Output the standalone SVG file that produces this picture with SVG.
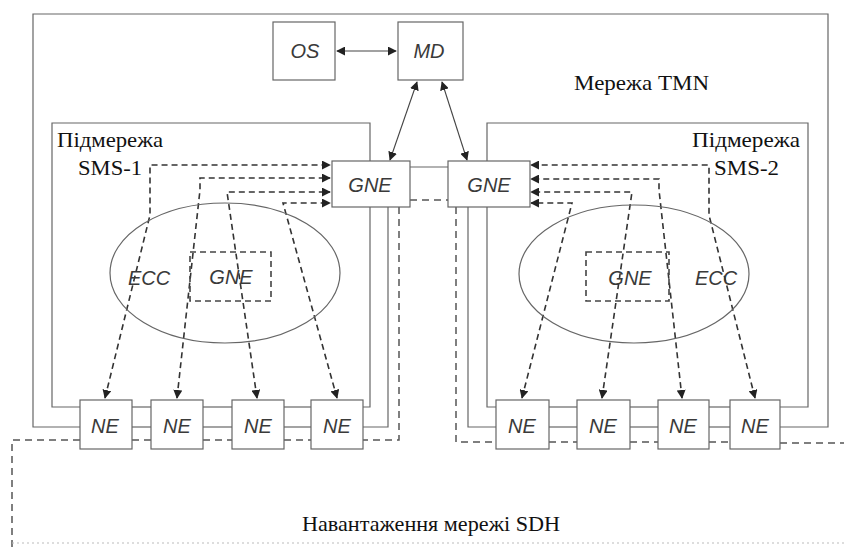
<svg xmlns="http://www.w3.org/2000/svg" width="844" height="547" viewBox="0 0 844 547">
<defs>
<marker id="ah" viewBox="0 0 10 10" refX="9" refY="5" markerWidth="9" markerHeight="9" markerUnits="userSpaceOnUse" orient="auto-start-reverse">
<path d="M0,0 L10,5 L0,10 z" fill="#222"/>
</marker>
</defs>
<style>
.bg{fill:#fff}
.box{fill:#fff;stroke:#666;stroke-width:1.2}
.dbox{fill:none;stroke:#444;stroke-width:1.6;stroke-dasharray:6,4}
.ell{fill:none;stroke:#666;stroke-width:1.2}
.ln{fill:none;stroke:#666;stroke-width:1.2}
.dl{fill:none;stroke:#555;stroke-width:1.5;stroke-dasharray:7,5}
.da{fill:none;stroke:#333;stroke-width:1.6;stroke-dasharray:6,4}
.arr{fill:none;stroke:#444;stroke-width:1.1}
.lbl{font-family:"Liberation Sans",Arial,sans-serif;font-style:italic;font-size:20px;fill:#3a3a3a;text-anchor:middle}
.ser{font-family:"Liberation Serif","DejaVu Serif",serif;font-size:22px;fill:#111}
</style>
<rect class="bg" x="0" y="0" width="844" height="547"/>

<g id="boundaries">
<polyline class="ln" points="80,427 33,427 33,14 828,14 828,427 780,427"/>
<polyline class="ln" points="80,407 52,407 52,123 370,123 370,161"/>
<polyline class="ln" points="370,207 370,407 363,407"/>
<polyline class="ln" points="487,161 487,123 808,123 808,407 780,407"/>
<polyline class="ln" points="487,207 487,407 496,407"/>
<polyline class="dl" points="80,440 12,440 12,547"/>
<polyline class="dl" points="780,443 844,443"/>
<line x1="12" y1="543" x2="844" y2="543" stroke="#bbb" stroke-width="1" stroke-dasharray="2,3"/>
</g>

<g id="connectors">
<line class="arr" x1="337" y1="51" x2="396" y2="51" marker-start="url(#ah)" marker-end="url(#ah)"/>
<line class="arr" x1="417" y1="82" x2="390" y2="160" marker-start="url(#ah)" marker-end="url(#ah)"/>
<line class="arr" x1="442" y1="82" x2="467" y2="160" marker-start="url(#ah)" marker-end="url(#ah)"/>
<line class="ln" x1="410" y1="167" x2="448" y2="167"/>
<line class="dl" x1="410" y1="200" x2="448" y2="200"/>
<polyline class="ln" points="388,207 388,427 363,427"/>
<polyline class="dl" points="399,207 399,440 363,440"/>
<polyline class="ln" points="468,207 468,427 496,427"/>
<polyline class="dl" points="456,207 456,442 496,442"/>
<line class="ln" x1="132" y1="407" x2="151" y2="407"/>
<line class="ln" x1="132" y1="427" x2="151" y2="427"/>
<line class="dl" x1="132" y1="440" x2="151" y2="440"/>
<line class="ln" x1="203" y1="407" x2="232" y2="407"/>
<line class="ln" x1="203" y1="427" x2="232" y2="427"/>
<line class="dl" x1="203" y1="440" x2="232" y2="440"/>
<line class="ln" x1="284" y1="407" x2="311" y2="407"/>
<line class="ln" x1="284" y1="427" x2="311" y2="427"/>
<line class="dl" x1="284" y1="440" x2="311" y2="440"/>
<line class="ln" x1="549" y1="407" x2="577" y2="407"/>
<line class="ln" x1="549" y1="427" x2="577" y2="427"/>
<line class="dl" x1="549" y1="442" x2="577" y2="442"/>
<line class="ln" x1="630" y1="407" x2="658" y2="407"/>
<line class="ln" x1="630" y1="427" x2="658" y2="427"/>
<line class="dl" x1="630" y1="442" x2="658" y2="442"/>
<line class="ln" x1="709" y1="407" x2="730" y2="407"/>
<line class="ln" x1="709" y1="427" x2="730" y2="427"/>
<line class="dl" x1="709" y1="442" x2="730" y2="442"/>
<polyline class="da" points="105,398 150,215 150,165 330,165" marker-start="url(#ah)" marker-end="url(#ah)"/>
<polyline class="da" points="177,398 200,190 200,178 330,178" marker-start="url(#ah)" marker-end="url(#ah)"/>
<polyline class="da" points="257,398 227,192 330,192" marker-start="url(#ah)" marker-end="url(#ah)"/>
<polyline class="da" points="337,398 283,203 330,203" marker-start="url(#ah)" marker-end="url(#ah)"/>
<polyline class="da" points="755,398 709,215 709,165 531,165" marker-start="url(#ah)" marker-end="url(#ah)"/>
<polyline class="da" points="682,398 659,190 659,179 531,179" marker-start="url(#ah)" marker-end="url(#ah)"/>
<polyline class="da" points="602,398 632,192 531,192" marker-start="url(#ah)" marker-end="url(#ah)"/>
<polyline class="da" points="522,398 572,203 531,203" marker-start="url(#ah)" marker-end="url(#ah)"/>
</g>

<g id="ecc1"><ellipse class="ell" cx="225" cy="273" rx="115" ry="70"/><text class="lbl" x="149" y="285">ECC</text></g>
<g id="ecc2"><ellipse class="ell" cx="634" cy="274" rx="115" ry="69"/><text class="lbl" x="716" y="285">ECC</text></g>
<g id="gne1-inner"><rect class="dbox" x="190" y="252" width="81" height="49"/><text class="lbl" x="231" y="284">GNE</text></g>
<g id="gne2-inner"><rect class="dbox" x="586" y="252" width="83" height="49"/><text class="lbl" x="630" y="285">GNE</text></g>

<g id="os"><rect class="box" x="273" y="22" width="62" height="58"/><text class="lbl" x="305" y="58">OS</text></g>
<g id="md"><rect class="box" x="398" y="22" width="65" height="58"/><text class="lbl" x="429" y="58">MD</text></g>
<g id="gne1"><rect class="box" x="332" y="161" width="78" height="46"/><text class="lbl" x="370" y="192">GNE</text></g>
<g id="gne2"><rect class="box" x="448" y="161" width="82" height="46"/><text class="lbl" x="489" y="192">GNE</text></g>

<g id="ne1"><rect class="box" x="80" y="400" width="52" height="49"/><text class="lbl" x="105" y="433">NE</text></g>
<g id="ne2"><rect class="box" x="151" y="400" width="52" height="49"/><text class="lbl" x="177" y="433">NE</text></g>
<g id="ne3"><rect class="box" x="232" y="400" width="52" height="49"/><text class="lbl" x="258" y="433">NE</text></g>
<g id="ne4"><rect class="box" x="311" y="400" width="52" height="49"/><text class="lbl" x="337" y="433">NE</text></g>
<g id="ne5"><rect class="box" x="496" y="400" width="53" height="49"/><text class="lbl" x="522" y="433">NE</text></g>
<g id="ne6"><rect class="box" x="577" y="400" width="53" height="49"/><text class="lbl" x="603" y="433">NE</text></g>
<g id="ne7"><rect class="box" x="658" y="400" width="51" height="49"/><text class="lbl" x="683" y="433">NE</text></g>
<g id="ne8"><rect class="box" x="730" y="400" width="50" height="49"/><text class="lbl" x="755" y="433">NE</text></g>

<g id="labels" font-family="Liberation Serif, DejaVu Serif, serif">
<text class="ser" font-family="Liberation Serif, serif" x="574" y="90" textLength="135" lengthAdjust="spacingAndGlyphs">Мережа TMN</text>
<text class="ser" font-family="Liberation Serif, serif" x="57" y="147" textLength="106" lengthAdjust="spacingAndGlyphs">Підмережа</text>
<text class="ser" font-family="Liberation Serif, serif" x="78" y="175" textLength="64" lengthAdjust="spacingAndGlyphs">SMS-1</text>
<text class="ser" font-family="Liberation Serif, serif" x="692" y="147" textLength="108" lengthAdjust="spacingAndGlyphs">Підмережа</text>
<text class="ser" font-family="Liberation Serif, serif" x="714" y="175" textLength="65" lengthAdjust="spacingAndGlyphs">SMS-2</text>
<text class="ser" font-family="Liberation Serif, serif" x="302" y="531" textLength="258" lengthAdjust="spacingAndGlyphs">Навантаження мережі SDH</text>
</g>
</svg>
